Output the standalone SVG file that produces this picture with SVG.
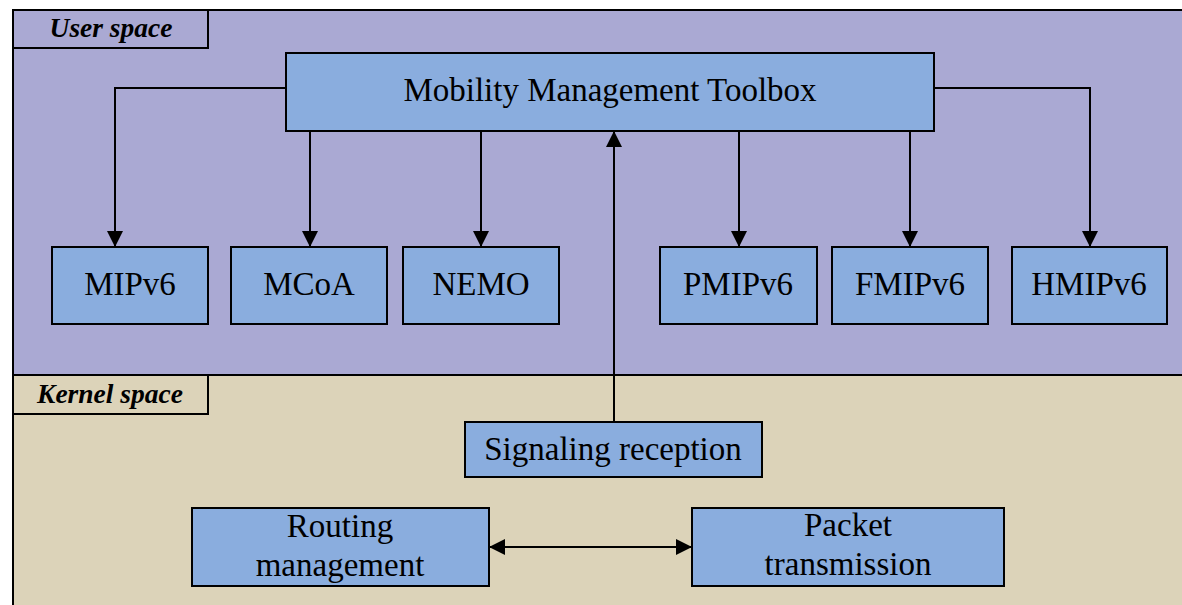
<svg xmlns="http://www.w3.org/2000/svg" width="1182" height="605" viewBox="0 0 1182 605">
<style>
.box{fill:#8AADDE;stroke:#000;stroke-width:2}
.t{font-family:"Liberation Serif","Times New Roman",serif;font-size:33px;fill:#000;text-anchor:middle}
.lbl{font-family:"Liberation Serif","Times New Roman",serif;font-size:27.5px;font-weight:bold;font-style:italic;fill:#000;text-anchor:middle}
.ln{fill:none;stroke:#000;stroke-width:2}
</style>
<defs>
<marker id="ah" viewBox="0 0 16 16" refX="16" refY="8" markerWidth="16" markerHeight="16" markerUnits="userSpaceOnUse" orient="auto-start-reverse">
<path d="M0,0 L16,8 L0,16 Z" fill="#000"/>
</marker>
</defs>
<rect width="1182" height="605" fill="#fff"/>
<g id="user-space">
<rect x="13" y="10" width="1175" height="365" fill="#AAA9D3" stroke="#000" stroke-width="2"/>
<rect x="13" y="10" width="195" height="38" fill="#AAA9D3" stroke="#000" stroke-width="2"/>
<text class="lbl" x="111" y="37">User space</text>
</g>
<g id="kernel-space">
<rect x="13" y="375" width="1175" height="240" fill="#DCD3B9" stroke="#000" stroke-width="2"/>
<rect x="13" y="375" width="195" height="39" fill="#DCD3B9" stroke="#000" stroke-width="2"/>
<text class="lbl" x="110" y="403">Kernel space</text>
</g>
<g id="connectors">
<path class="ln" d="M286,88 H115 V247" marker-end="url(#ah)"/>
<path class="ln" d="M310,131 V247" marker-end="url(#ah)"/>
<path class="ln" d="M481,131 V247" marker-end="url(#ah)"/>
<path class="ln" d="M739,131 V247" marker-end="url(#ah)"/>
<path class="ln" d="M910,131 V247" marker-end="url(#ah)"/>
<path class="ln" d="M934,88 H1090 V247" marker-end="url(#ah)"/>
<path class="ln" d="M614,422 V131" marker-end="url(#ah)"/>
<path class="ln" d="M489,547 H692" marker-start="url(#ah)" marker-end="url(#ah)"/>
</g>
<g id="toolbox">
<rect class="box" x="286" y="53" width="648" height="78"/>
<text class="t" x="610" y="101">Mobility Management Toolbox</text>
</g>
<g id="mipv6">
<rect class="box" x="52" y="247" width="156" height="77"/>
<text class="t" x="130" y="295">MIPv6</text>
</g>
<g id="mcoa">
<rect class="box" x="231" y="247" width="156" height="77"/>
<text class="t" x="309" y="295">MCoA</text>
</g>
<g id="nemo">
<rect class="box" x="403" y="247" width="156" height="77"/>
<text class="t" x="481" y="295">NEMO</text>
</g>
<g id="pmipv6">
<rect class="box" x="660" y="247" width="157" height="77"/>
<text class="t" x="738" y="295">PMIPv6</text>
</g>
<g id="fmipv6">
<rect class="box" x="832" y="247" width="156" height="77"/>
<text class="t" x="910" y="295">FMIPv6</text>
</g>
<g id="hmipv6">
<rect class="box" x="1012" y="247" width="155" height="77"/>
<text class="t" x="1089" y="295">HMIPv6</text>
</g>
<g id="signaling">
<rect class="box" x="465" y="422" width="297" height="55"/>
<text class="t" x="613" y="460">Signaling reception</text>
</g>
<g id="routing">
<rect class="box" x="192" y="508" width="297" height="78"/>
<text class="t" x="340" y="537">Routing</text>
<text class="t" x="340" y="576">management</text>
</g>
<g id="packet">
<rect class="box" x="692" y="508" width="312" height="78"/>
<text class="t" x="848" y="536">Packet</text>
<text class="t" x="848" y="575">transmission</text>
</g>
</svg>
